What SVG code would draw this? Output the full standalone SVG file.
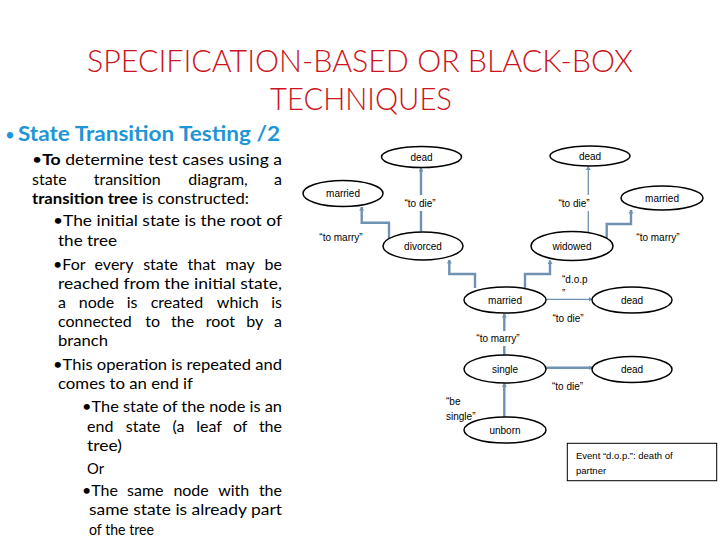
<svg xmlns="http://www.w3.org/2000/svg" width="720" height="540" viewBox="0 0 720 540">
<style>
.title{font-family:Lato,"Liberation Sans",sans-serif;font-weight:300;font-size:31px;fill:#cc1420}
.head{font-family:Lato,"Liberation Sans",sans-serif;font-weight:bold;font-size:20px;fill:#1e96d6}
.body{font-family:Lato,"Liberation Sans",sans-serif;font-size:16px;fill:#000}
.m{text-anchor:middle}
.e{text-anchor:end}
.b{font-weight:bold}
.node ellipse{fill:#fff;stroke:#000;stroke-width:1.5}
.node text,.lbl{font-family:"Liberation Sans",Arial,sans-serif;font-size:10px;fill:#000}
.node text{text-anchor:middle}
.lbl{text-anchor:middle}
.c{fill:none;stroke:#6f91b2;stroke-width:2.4}
.t{stroke-width:1.3}
.legend rect{fill:#fff;stroke:#000;stroke-width:1}
.legend text{font-family:"Liberation Sans",Arial,sans-serif;font-size:9.5px;fill:#000}
</style>
<defs>
<marker id="ah" markerUnits="userSpaceOnUse" markerWidth="4" markerHeight="5" refX="3.5" refY="2.5" orient="auto">
<path d="M0,0 L4,2.5 L0,5 z" fill="#6f91b2"/>
</marker>
</defs>
<rect width="720" height="540" fill="#fff"/>

<g id="title">
<text class="title" x="360" y="72" text-anchor="middle" textLength="546" lengthAdjust="spacingAndGlyphs">SPECIFICATION-BASED OR BLACK-BOX</text>
<text class="title" x="361" y="109.5" text-anchor="middle" textLength="182" lengthAdjust="spacingAndGlyphs">TECHNIQUES</text>
</g>

<g id="text-left">
<text class="head" x="5" y="140.5" style="font-weight:normal;font-size:17px">•</text>
<text class="head" x="18" y="140.5" textLength="262" lengthAdjust="spacingAndGlyphs">State Transition Testing /2</text>
<text class="body" x="32" y="165" textLength="250" lengthAdjust="spacingAndGlyphs">•<tspan class="b">To</tspan> determine test cases using a</text>
<g id="l2"><text class="body" x="32" y="185">state</text><text class="body m" x="127.2" y="185">transition</text><text class="body m" x="218" y="185">diagram,</text><text class="body e" x="282" y="185">a</text></g>
<text class="body" x="32" y="204" textLength="217" lengthAdjust="spacingAndGlyphs"><tspan class="b">transition tree</tspan> is constructed:</text>
<text class="body" x="53" y="226" textLength="229" lengthAdjust="spacingAndGlyphs">•The initial state is the root of</text>
<text class="body" x="58" y="246" textLength="59" lengthAdjust="spacingAndGlyphs">the tree</text>
<g id="l6"><text class="body" x="53" y="270">•For</text><text class="body m" x="114" y="270">every</text><text class="body m" x="160.5" y="270">state</text><text class="body m" x="201.7" y="270">that</text><text class="body m" x="240.1" y="270">may</text><text class="body e" x="282" y="270">be</text></g>
<text class="body" x="58" y="288.5" textLength="224" lengthAdjust="spacingAndGlyphs">reached from the initial state,</text>
<g id="l8"><text class="body" x="58" y="308">a</text><text class="body m" x="96.5" y="308">node</text><text class="body m" x="132.1" y="308">is</text><text class="body m" x="176.9" y="308">created</text><text class="body m" x="237.8" y="308">which</text><text class="body e" x="282" y="308">is</text></g>
<g id="l9"><text class="body" x="58" y="327">connected</text><text class="body m" x="152.7" y="327">to</text><text class="body m" x="182.6" y="327">the</text><text class="body m" x="220.3" y="327">root</text><text class="body m" x="254.7" y="327">by</text><text class="body e" x="282" y="327">a</text></g>
<text class="body" x="58" y="346" textLength="50" lengthAdjust="spacingAndGlyphs">branch</text>
<text class="body" x="53" y="370" textLength="229" lengthAdjust="spacingAndGlyphs">•This operation is repeated and</text>
<text class="body" x="58" y="389" textLength="135" lengthAdjust="spacingAndGlyphs">comes to an end if</text>
<text class="body" x="82" y="412" textLength="200" lengthAdjust="spacingAndGlyphs">•The state of the node is an</text>
<g id="l14"><text class="body" x="87" y="432">end</text><text class="body m" x="143.2" y="432">state</text><text class="body m" x="178.5" y="432">(a</text><text class="body m" x="209.1" y="432">leaf</text><text class="body m" x="240.2" y="432">of</text><text class="body e" x="282" y="432">the</text></g>
<text class="body" x="87" y="451" textLength="35" lengthAdjust="spacingAndGlyphs">tree)</text>
<text class="body" x="87" y="474" textLength="17" lengthAdjust="spacingAndGlyphs">Or</text>
<g id="l17"><text class="body" x="82" y="496">•The</text><text class="body m" x="145.3" y="496">same</text><text class="body m" x="191.1" y="496">node</text><text class="body m" x="233.7" y="496">with</text><text class="body e" x="282" y="496">the</text></g>
<text class="body" x="89" y="515" textLength="193" lengthAdjust="spacingAndGlyphs">same state is already part</text>
<text class="body" x="89" y="535" textLength="65" lengthAdjust="spacingAndGlyphs">of the tree</text>
</g>

<g id="connectors">
<path class="c" d="M421,231.5 V211"/><path class="c" d="M421,195 V168" marker-end="url(#ah)"/>
<path class="c" d="M389,238.5 V222.7 H361.7 V207" marker-end="url(#ah)"/>
<path class="c t" d="M588.3,232 V211"/><path class="c t" d="M588.3,195 V166.5" marker-end="url(#ah)"/>
<path class="c" d="M606.7,239 V224 H631 V210" marker-end="url(#ah)"/>
<path class="c" d="M475,288 V274 H449.3 V260" marker-end="url(#ah)"/>
<path class="c" d="M525,288 V274 H550 V260.5" marker-end="url(#ah)"/>
<path class="c t" d="M546,299.3 H592" marker-end="url(#ah)"/>
<path class="c" d="M504.3,355 V346"/><path class="c" d="M504.3,331 V314" marker-end="url(#ah)"/>
<path class="c" d="M546,367.7 H592" marker-end="url(#ah)"/>
<path class="c" d="M504.3,417 V383.5" marker-end="url(#ah)"/>
</g>

<g id="labels">
<text class="lbl" x="420" y="207">“to die”</text>
<text class="lbl" x="341" y="241">“to marry”</text>
<text class="lbl" x="574" y="207">“to die”</text>
<text class="lbl" x="658" y="241">“to marry”</text>
<text class="lbl" x="562" y="283" style="text-anchor:start">“d.o.p</text>
<text class="lbl" x="562" y="297" style="text-anchor:start">”</text>
<text class="lbl" x="568" y="322">“to die”</text>
<text class="lbl" x="498" y="342">“to marry”</text>
<text class="lbl" x="567.5" y="390">“to die”</text>
<text class="lbl" x="446" y="405" style="text-anchor:start">“be</text>
<text class="lbl" x="446" y="419.5" style="text-anchor:start">single”</text>
</g>

<g id="n-dead1" class="node"><ellipse cx="421.5" cy="157" rx="40" ry="10.5"/><text x="421.5" y="160.5">dead</text></g>
<g id="n-married1" class="node"><ellipse cx="343" cy="193.5" rx="40" ry="13"/><text x="343" y="197">married</text></g>
<g id="n-divorced" class="node"><ellipse cx="423" cy="246" rx="40" ry="14"/><text x="423" y="249.5">divorced</text></g>
<g id="n-dead2" class="node"><ellipse cx="590" cy="156" rx="40" ry="10"/><text x="590" y="159.5">dead</text></g>
<g id="n-married2" class="node"><ellipse cx="662" cy="198" rx="41" ry="12"/><text x="662" y="201.5">married</text></g>
<g id="n-widowed" class="node"><ellipse cx="572" cy="246" rx="41" ry="14.5"/><text x="572" y="249.5">widowed</text></g>
<g id="n-married3" class="node"><ellipse cx="505" cy="300" rx="41" ry="13"/><text x="505" y="303.5">married</text></g>
<g id="n-dead3" class="node"><ellipse cx="632" cy="300" rx="40" ry="13"/><text x="632" y="303.5">dead</text></g>
<g id="n-single" class="node"><ellipse cx="505" cy="369" rx="41" ry="14"/><text x="505" y="372.5">single</text></g>
<g id="n-dead4" class="node"><ellipse cx="632" cy="369.5" rx="40" ry="13"/><text x="632" y="373">dead</text></g>
<g id="n-unborn" class="node"><ellipse cx="505" cy="430" rx="41" ry="13"/><text x="505" y="433.5">unborn</text></g>

<g id="legend" class="legend">
<rect x="567.3" y="443.3" width="149.4" height="37.4"/>
<text x="576" y="459">Event “d.o.p.”: death of</text>
<text x="576" y="474">partner</text>
</g>
</svg>
